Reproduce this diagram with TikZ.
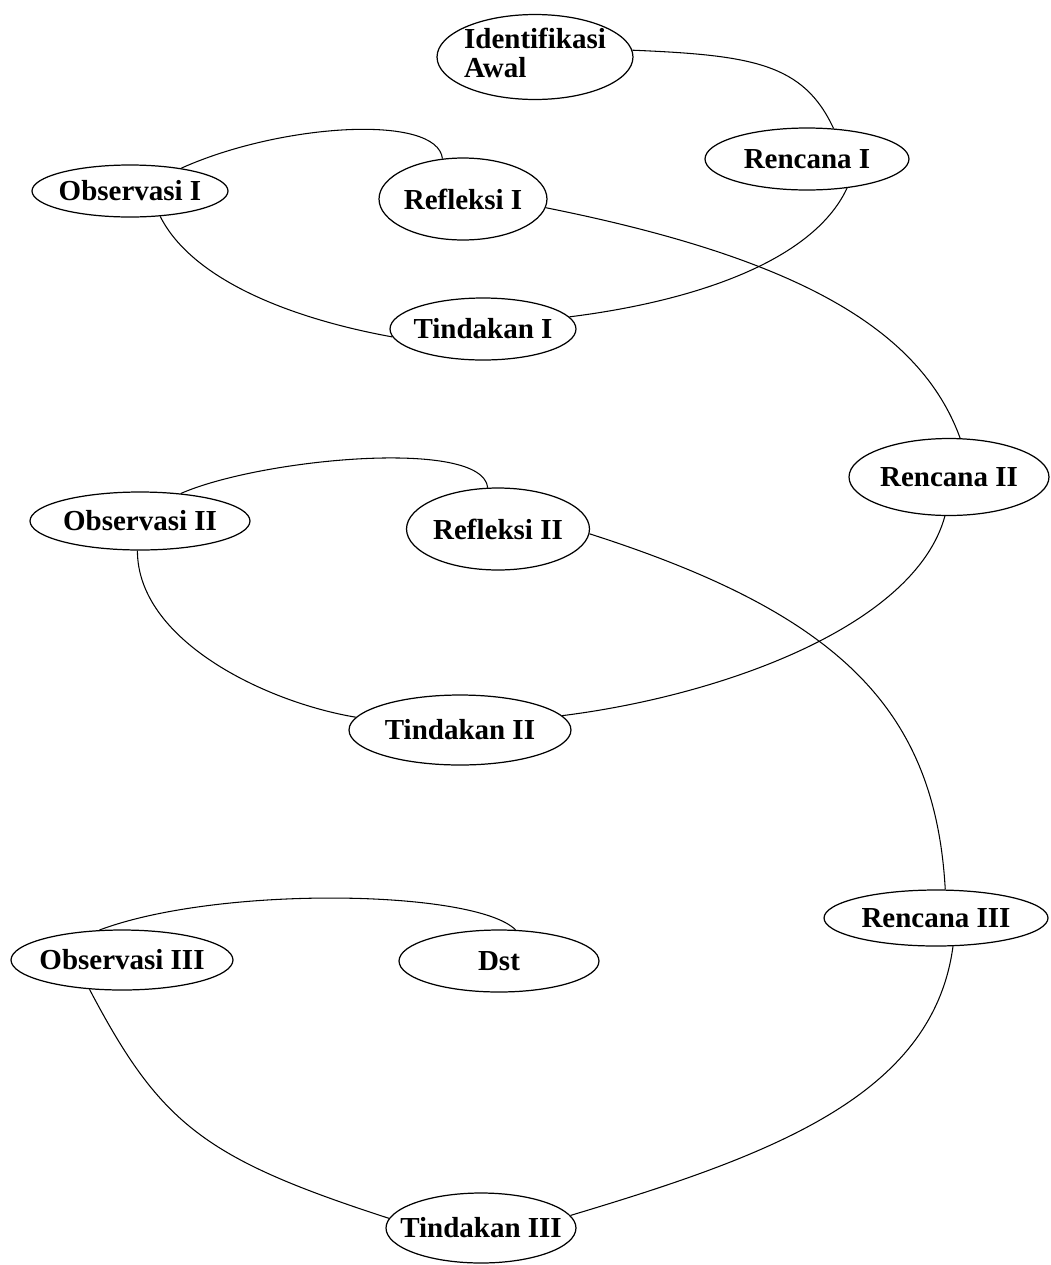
\documentclass[tikz,border=0pt]{standalone}
\usepackage{fontspec}
\setmainfont{Liberation Serif}
\usepackage{tikz}
\usetikzlibrary{shapes.geometric}

\newcommand{\etiq}[1]{\makebox[0pt]{#1}}

\begin{document}
\begin{tikzpicture}[x=0.02cm, y=-0.02cm,
    oval/.style 2 args={ellipse, draw, line width=0.7pt, inner sep=0pt,
        minimum width=#1, minimum height=#2,
        font=\bfseries\fontsize{16.5}{17}\selectfont},
    link/.style={draw, line width=0.6pt}]

    \useasboundingbox (0,0) rectangle (1051,1265);

    % Siklus I
    \node[oval={3.92cm}{1.7cm}] (awal) at (535,57)
        {\etiq{\begin{tabular}{@{}l@{}}Identifikasi\\Awal\end{tabular}}};
    \node[oval={4.08cm}{1.24cm}] (renc1) at (807,159) {\etiq{Rencana I}};
    \node[oval={3.92cm}{1.04cm}] (obs1) at (130,191) {\etiq{Observasi I}};
    \node[oval={3.36cm}{1.64cm}] (refl1) at (463,199) {\etiq{Refleksi I}};
    \node[oval={3.72cm}{1.24cm}] (tind1) at (483,329) {\etiq{Tindakan I}};

    % Siklus II
    \node[oval={4.0cm}{1.54cm}] (renc2) at (949,477) {\etiq{Rencana II}};
    \node[oval={4.4cm}{1.16cm}] (obs2) at (140,521) {\etiq{Observasi II}};
    \node[oval={3.66cm}{1.64cm}] (refl2) at (498,529) {\etiq{Refleksi II}};
    \node[oval={4.44cm}{1.4cm}] (tind2) at (460,730) {\etiq{Tindakan II}};

    % Siklus III
    \node[oval={4.48cm}{1.12cm}] (renc3) at (936,918) {\etiq{Rencana III}};
    \node[oval={4.44cm}{1.2cm}] (obs3) at (122,960) {\etiq{Observasi III}};
    \node[oval={4.0cm}{1.24cm}] (dst) at (499,961) {\etiq{Dst}};
    \node[oval={3.8cm}{1.4cm}] (tind3) at (481,1228) {\etiq{Tindakan III}};

    % Conexiones del ciclo I
    \draw[link] (awal.4) .. controls +(120,5) and +(-30,-65) .. (renc1.49);
    \draw[link] (renc1.324) .. controls +(-35,75) and +(120,-15) .. (tind1.8);
    \draw[link] (tind1.185) .. controls +(-110,-20) and +(30,60) .. (obs1.320);
    \draw[link] (obs1.24) .. controls +(100,-45) and +(-5,-45) .. (refl1.117);
    \draw[link] (refl1.354) .. controls +(250,50) and +(-40,-110) .. (renc2.74);

    % Conexiones del ciclo II
    \draw[link] (renc2.264) .. controls +(-30,110) and +(160,-20) .. (tind2.8);
    \draw[link] (tind2.173) .. controls +(-90,-15) and +(0,90) .. (obs2.265);
    \draw[link] (obs2.34) .. controls +(80,-35) and +(-5,-50) .. (refl2.104);
    \draw[link] (refl2.357) .. controls +(250,80) and +(-10,-180) .. (renc3.72);

    % Conexiones del ciclo III
    \draw[link] (renc3.301) .. controls +(-20,150) and +(200,-60) .. (tind3.8);
    \draw[link] (tind3.174) .. controls +(-185,-60) and +(71,135) .. (obs3.222);
    \draw[link] (obs3.127) .. controls +(120,-45) and +(-40,-40) .. (dst.62);

\end{tikzpicture}
\end{document}
